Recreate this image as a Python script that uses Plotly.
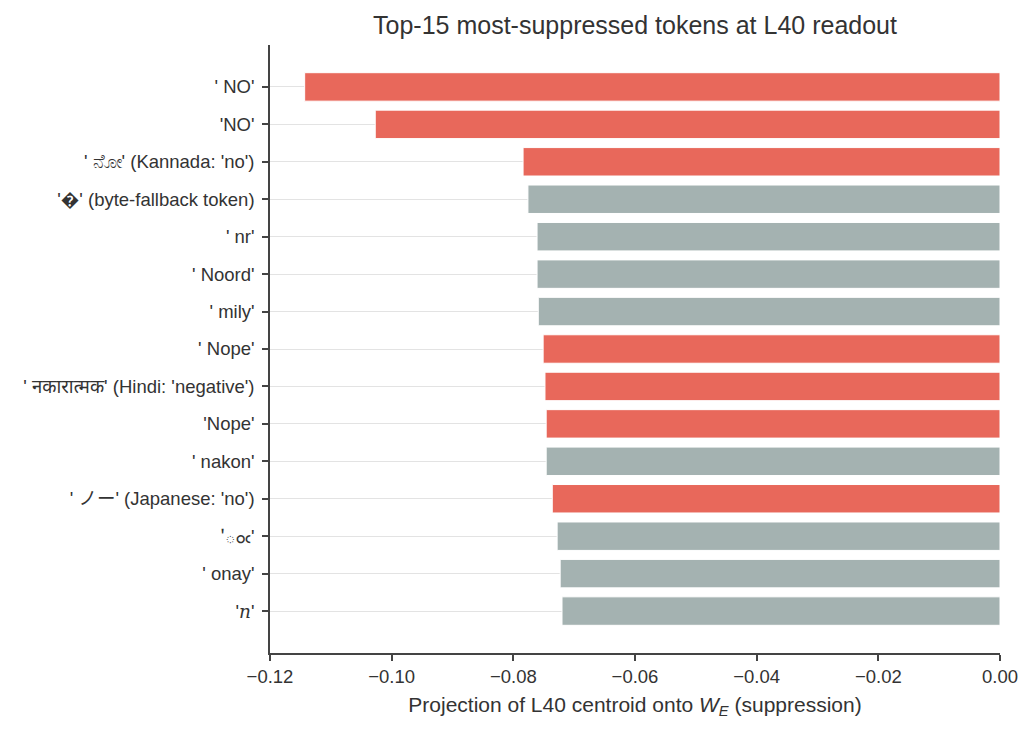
import plotly.graph_objects as go

tokens = [
    "' NO'",
    "'NO'",
    "' ನೋ' (Kannada: 'no')",
    "'�' (byte-fallback token)",
    "' nr'",
    "' Noord'",
    "' mily'",
    "' Nope'",
    "' नकारात्मक' (Hindi: 'negative')",
    "'Nope'",
    "' nakon'",
    "' ノー' (Japanese: 'no')",
    "'ంఁ'",
    "' onay'",
    "'<i><span style=\"font-family:DejaVu Serif\">n</span></i>'",
]
projection = [-0.1143, -0.1027, -0.0784, -0.0776, -0.0761, -0.0761, -0.0759,
              -0.0751, -0.0748, -0.0746, -0.0746, -0.0736, -0.0728, -0.0723, -0.0720]
is_negation = [True, True, True, False, False, False, False,
               True, True, True, False, True, False, False, False]

red = '#E8685B'
gray = '#A4B2B1'
colors = [red if n else gray for n in is_negation]

fig = go.Figure(go.Bar(
    x=projection, y=list(range(len(tokens))), orientation='h',
    marker=dict(color=colors, line=dict(color='white', width=1)),
    width=0.76,
))

fig.update_layout(
    width=1034, height=733,
    margin=dict(l=262, r=42, t=37, b=88),
    plot_bgcolor='white', paper_bgcolor='white',
    font=dict(family='Liberation Sans, Arial, Noto Sans, Noto Sans CJK JP', size=18.5, color='#333333'),
    title=dict(text='Top-15 most-suppressed tokens at L40 readout', x=0.5, xanchor='center',
               xref='paper', y=0.977, yanchor='middle', font=dict(size=25, color='#333333')),
    showlegend=False,
)
fig.update_xaxes(
    range=[-0.12, 0.0], tickvals=[-0.12, -0.10, -0.08, -0.06, -0.04, -0.02, 0.0],
    ticktext=['\u22120.12', '\u22120.10', '\u22120.08', '\u22120.06', '\u22120.04', '\u22120.02', '0.00'],
    showline=True, linecolor='#444444', linewidth=1.5, ticks='outside', ticklen=6,
    tickcolor='#444444', tickwidth=1.5, showgrid=False, zeroline=False,
    title=dict(text='Projection of L40 centroid onto <i>W</i><sub><i>E</i></sub> (suppression)',
               font=dict(size=21), standoff=11),
)
fig.update_yaxes(
    range=[14 + 1.12, -1.12], tickvals=list(range(len(tokens))), ticktext=tokens,
    showline=True, linecolor='#444444', linewidth=1.5, ticks='outside', ticklen=6,
    tickcolor='#444444', tickwidth=1.5, showgrid=True, gridcolor='#E3E3E3', gridwidth=0.8,
    zeroline=False, ticklabelstandoff=4,
)

fig.write_html("out.html")
